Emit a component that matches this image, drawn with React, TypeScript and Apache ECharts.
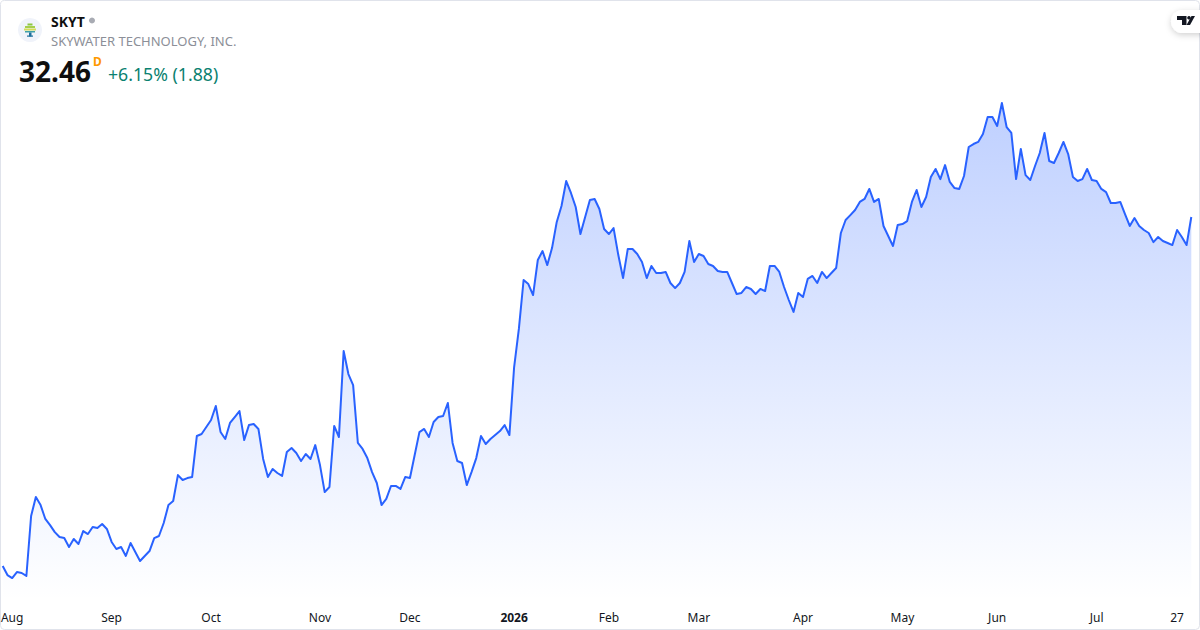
import React, { useEffect, useRef } from "react";
import * as echarts from "echarts";

const symbol = "SKYT";
const companyName = "SKYWATER TECHNOLOGY, INC.";
const lastPrice = "32.46";
const priceChange = "+6.15% (1.88)";

const closes: number[] = [
  9.08,8.47,8.27,8.67,8.61,8.41,12.43,13.7,13.16,12.23,11.82,11.35,11.02,10.95,10.35,10.89,10.55,11.42,11.22,11.69,
  11.62,11.89,11.56,10.69,10.22,10.35,9.75,10.62,10.02,9.41,9.75,10.08,10.95,11.09,11.96,13.16,13.43,15.17,14.84,14.97,
  15.04,17.79,17.92,18.39,18.86,19.8,18.06,17.59,18.66,19.06,19.46,17.52,18.52,18.59,18.26,16.25,15.04,15.58,15.31,15.11,
  16.72,16.98,16.65,16.11,16.58,16.25,17.18,15.84,14.03,14.37,18.46,17.72,23.48,21.94,21.2,17.32,16.92,16.31,15.37,14.64,
  13.16,13.57,14.44,14.44,14.24,15.04,14.97,16.51,18.05,18.26,17.72,18.73,19.06,19.13,20,17.32,16.11,15.98,14.5,15.37,
  16.31,17.79,17.25,17.59,17.85,18.12,18.52,17.85,22.41,24.96,28.24,27.97,27.23,29.58,30.18,29.24,30.38,32.13,33.2,34.87,
  34.07,33.13,31.32,32.46,33.6,33.67,33,31.66,31.32,31.72,29.91,28.37,30.32,30.32,29.98,29.45,28.37,29.18,28.71,28.71,
  28.78,28.04,27.7,28.04,28.78,30.85,29.45,29.98,29.85,29.31,29.18,28.84,28.78,28.78,28.04,27.3,27.37,27.77,27.64,27.3,
  27.64,27.5,29.18,29.18,28.78,27.77,26.9,26.1,27.37,27.1,28.31,28.51,28.04,28.78,28.37,28.71,29.04,31.39,32.26,32.59,
  32.93,33.47,33.67,34.34,33.47,33.67,31.86,31.19,30.52,31.92,31.99,32.19,33.47,34.27,33.13,33.8,35.14,35.68,35,35.94,
  34.81,34.4,34.34,35.21,37.15,37.35,37.49,38.02,39.16,39.16,38.56,40.1,38.49,38.09,35,37.02,35.27,34.94,35.88,36.75,
  38.09,36.21,36.08,36.75,37.49,36.68,35.14,34.87,35,35.68,34.94,34.87,34.34,34.13,33.4,33.4,33.47,32.66,31.86,32.39,
  31.86,31.59,31.39,30.78,31.12,30.85,30.72,30.58,31.59,31.12,30.58,32.46,
];

const tickLabels: [number, string][] = [
  [2, "Aug"],[23, "Sep"],[44, "Oct"],[67, "Nov"],[86, "Dec"],[108, "2026"],[128, "Feb"],
  [147, "Mar"],[169, "Apr"],[190, "May"],[210, "Jun"],[231, "Jul"],[248, "27"],
];

const labelByIndex = new Map<number, string>(tickLabels);
const categories = closes.map((_, i) => String(i));
const FONT = '"Noto Sans", "Open Sans", sans-serif';

export default function App() {
  const ref = useRef<HTMLDivElement>(null);
  useEffect(() => {
    document.body.style.margin = "0";
    const chart = echarts.init(ref.current!, undefined, { renderer: "svg" });
    chart.setOption({
      animation: false,
      backgroundColor: "#ffffff",
      grid: { left: 2.7, right: 8.7, top: 0, height: 600, outerBoundsMode: "none" },
      xAxis: {
        type: "category",
        data: categories,
        boundaryGap: false,
        axisLine: { show: false },
        axisTick: { show: false },
        splitLine: { show: false },
        axisLabel: {
          interval: (i: number) => labelByIndex.has(i),
          formatter: (_: string, i: number) => {
            const t = labelByIndex.get(i) ?? "";
            return t === "2026" ? `{b|${t}}` : t;
          },
          color: "#131722",
          fontFamily: FONT,
          fontSize: 12,
          margin: 11,
          hideOverlap: false,
          rich: { b: { fontWeight: "bold", fontSize: 12, color: "#131722", fontFamily: FONT } },
        },
      },
      yAxis: { type: "value", min: 6.8, max: 47, show: false, splitLine: { show: false } },
      series: [
        {
          type: "line",
          data: closes,
          symbol: "none",
          silent: true,
          lineStyle: { color: "#2962ff", width: 2, join: "round" },
          areaStyle: {
            opacity: 1,
            color: new echarts.graphic.LinearGradient(0, 0, 0, 1, [
              { offset: 0, color: "rgba(41,98,255,0.3)" },
              { offset: 1, color: "rgba(41,98,255,0)" },
            ]),
          },
        },
      ],
      graphic: [
        { type: "rect", shape: { x: 0.5, y: 0.5, width: 1199, height: 629, r: 4 }, style: { fill: "none", stroke: "#e0e3eb", lineWidth: 1 } },
        { type: "circle", shape: { cx: 30, cy: 30, r: 12 }, style: { fill: "#f0f3fa" } },
        { type: "rect", shape: { x: 27.5, y: 23.5, width: 5, height: 2 }, style: { fill: "#8dc63f" } },
        { type: "rect", shape: { x: 25, y: 26, width: 10, height: 2 }, style: { fill: "#a5cf4c" } },
        { type: "rect", shape: { x: 24, y: 28.5, width: 12, height: 2 }, style: { fill: "#d5dc5a" } },
        { type: "rect", shape: { x: 25, y: 31, width: 10, height: 1.5 }, style: { fill: "#3f9fa8" } },
        { type: "rect", shape: { x: 29, y: 32.5, width: 2.5, height: 4 }, style: { fill: "#1c6f9c" } },
        { type: "rect", shape: { x: 27, y: 35.5, width: 6, height: 1.2 }, style: { fill: "#1c6f9c" } },
        { type: "text", x: 51, y: 21, style: { text: symbol, fontFamily: FONT, fontSize: 14, fontWeight: "bold", fill: "#0f0f0f", verticalAlign: "middle" } },
        { type: "circle", shape: { cx: 92, cy: 20.5, r: 3 }, style: { fill: "#a8abb3" } },
        { type: "text", x: 51, y: 41, style: { text: companyName, fontFamily: FONT, fontSize: 13, fill: "#8c8f98", verticalAlign: "middle" } },
        { type: "text", x: 19, y: 71, style: { text: lastPrice, fontFamily: FONT, fontSize: 28, fontWeight: "bold", fill: "#0f0f0f", verticalAlign: "middle" } },
        { type: "text", x: 93, y: 61, style: { text: "D", fontFamily: FONT, fontSize: 12, fontWeight: "bold", fill: "#ff9800", verticalAlign: "middle" } },
        { type: "text", x: 108, y: 74, style: { text: priceChange, fontFamily: FONT, fontSize: 17.7, fill: "#0a8170", verticalAlign: "middle" } },
        { type: "rect", shape: { x: 1171, y: 10, width: 46, height: 23, r: 11.5 }, style: { fill: "#ffffff", shadowBlur: 6, shadowColor: "rgba(0,0,0,0.18)", shadowOffsetY: 2 } },
        { type: "polygon", shape: { points: [[1177, 16], [1186.5, 16], [1186.5, 25], [1182, 25], [1182, 20], [1177, 20]] }, style: { fill: "#131722" } },
        { type: "circle", shape: { cx: 1189, cy: 17.8, r: 1.8 }, style: { fill: "#131722" } },
        { type: "polygon", shape: { points: [[1191.5, 16], [1195, 16], [1190, 25], [1186.5, 25]] }, style: { fill: "#131722" } },
      ],
    });
    return () => chart.dispose();
  }, []);
  return <div ref={ref} style={{ width: 1200, height: 630 }} />;
}
